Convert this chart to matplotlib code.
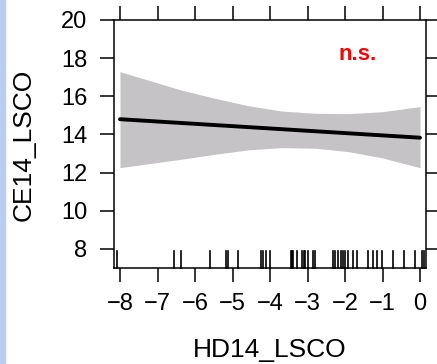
import matplotlib
matplotlib.use("Agg")
import matplotlib.pyplot as plt
import matplotlib.transforms as mtransforms
from matplotlib.patches import Rectangle

plt.rcParams['font.family'] = ['Liberation Sans', 'DejaVu Sans']

# effect line (HD14_LSCO -> CE14_LSCO)
line_x = [-8, 0]
line_y = [14.80, 13.83]

# confidence band
band_x = [-8, -6.37, -5.48, -4.59, -3.70, -2.80, -1.91, -1.02, 0]
band_hi = [17.29, 16.33, 15.90, 15.51, 15.23, 15.11, 15.09, 15.19, 15.46]
band_lo = [12.26, 12.70, 12.96, 13.19, 13.31, 13.28, 13.10, 12.78, 12.26]

# rug of observed HD14_LSCO values
rug_x = [-8.08, -6.55, -6.37, -5.59, -5.18, -5.12, -4.86, -4.25, -4.19, -4.12,
         -4.01, -3.45, -3.42, -3.39, -3.29, -3.14, -3.10, -3.07, -3.00, -2.85,
         -2.79, -2.33, -2.27, -2.18, -2.12, -2.06, -2.00, -1.91, -1.80, -1.69,
         -1.38, -1.26, -1.16, -1.02, -0.73, -0.44, -0.13, 0.05, 0.11]

x_ticks = [-8, -7, -6, -5, -4, -3, -2, -1, 0]
y_ticks = [8, 10, 12, 14, 16, 18, 20]

fig = plt.figure(figsize=(4.37, 3.64), dpi=100)
W, H = 437, 364
ax = fig.add_axes([114 / W, (H - 268) / H, (426 - 114) / W, (268 - 20) / H])

# blue strip on the left edge
fig.patches.append(Rectangle((0, 0), 5 / W, 1, transform=fig.transFigure,
                             color='#b7cdf3', zorder=0))

ax.fill_between(band_x, band_lo, band_hi, color='#c5c3c5', linewidth=0, zorder=1)
ax.plot(line_x, line_y, color='black', linewidth=2.8, solid_capstyle='round', zorder=2)

trans = mtransforms.blended_transform_factory(ax.transData, ax.transAxes)
for rx in rug_x:
    ax.plot([rx, rx], [0, 0.07], color='black', linewidth=1.2, transform=trans,
            clip_on=False, zorder=3)

ax.text(-1.67, 18.17, 'n.s.', color='red', fontsize=16, fontweight='bold',
        ha='center', va='center')

ax.set_xlim(-8.16, 0.16)
ax.set_ylim(7, 20)
ax.set_xticks(x_ticks)
ax.set_yticks(y_ticks)
ax.set_xticklabels([str(t).replace('-', '\u2212') for t in x_ticks])
ax.tick_params(direction='out', length=10, width=1.1, labelsize=17,
               top=True, right=True, labeltop=False, labelright=False)
ax.tick_params(axis='x', pad=8)
ax.tick_params(axis='y', pad=9)
for sp in ax.spines.values():
    sp.set_linewidth(1.1)

fig.text(270 / W, (H - 357) / H, 'HD14_LSCO', fontsize=19, ha='center', va='baseline')
fig.text(24 / W, 1 - 145 / H, 'CE14_LSCO', fontsize=19, rotation=90,
         ha='center', va='center')

fig.savefig('out.png', dpi=100)
